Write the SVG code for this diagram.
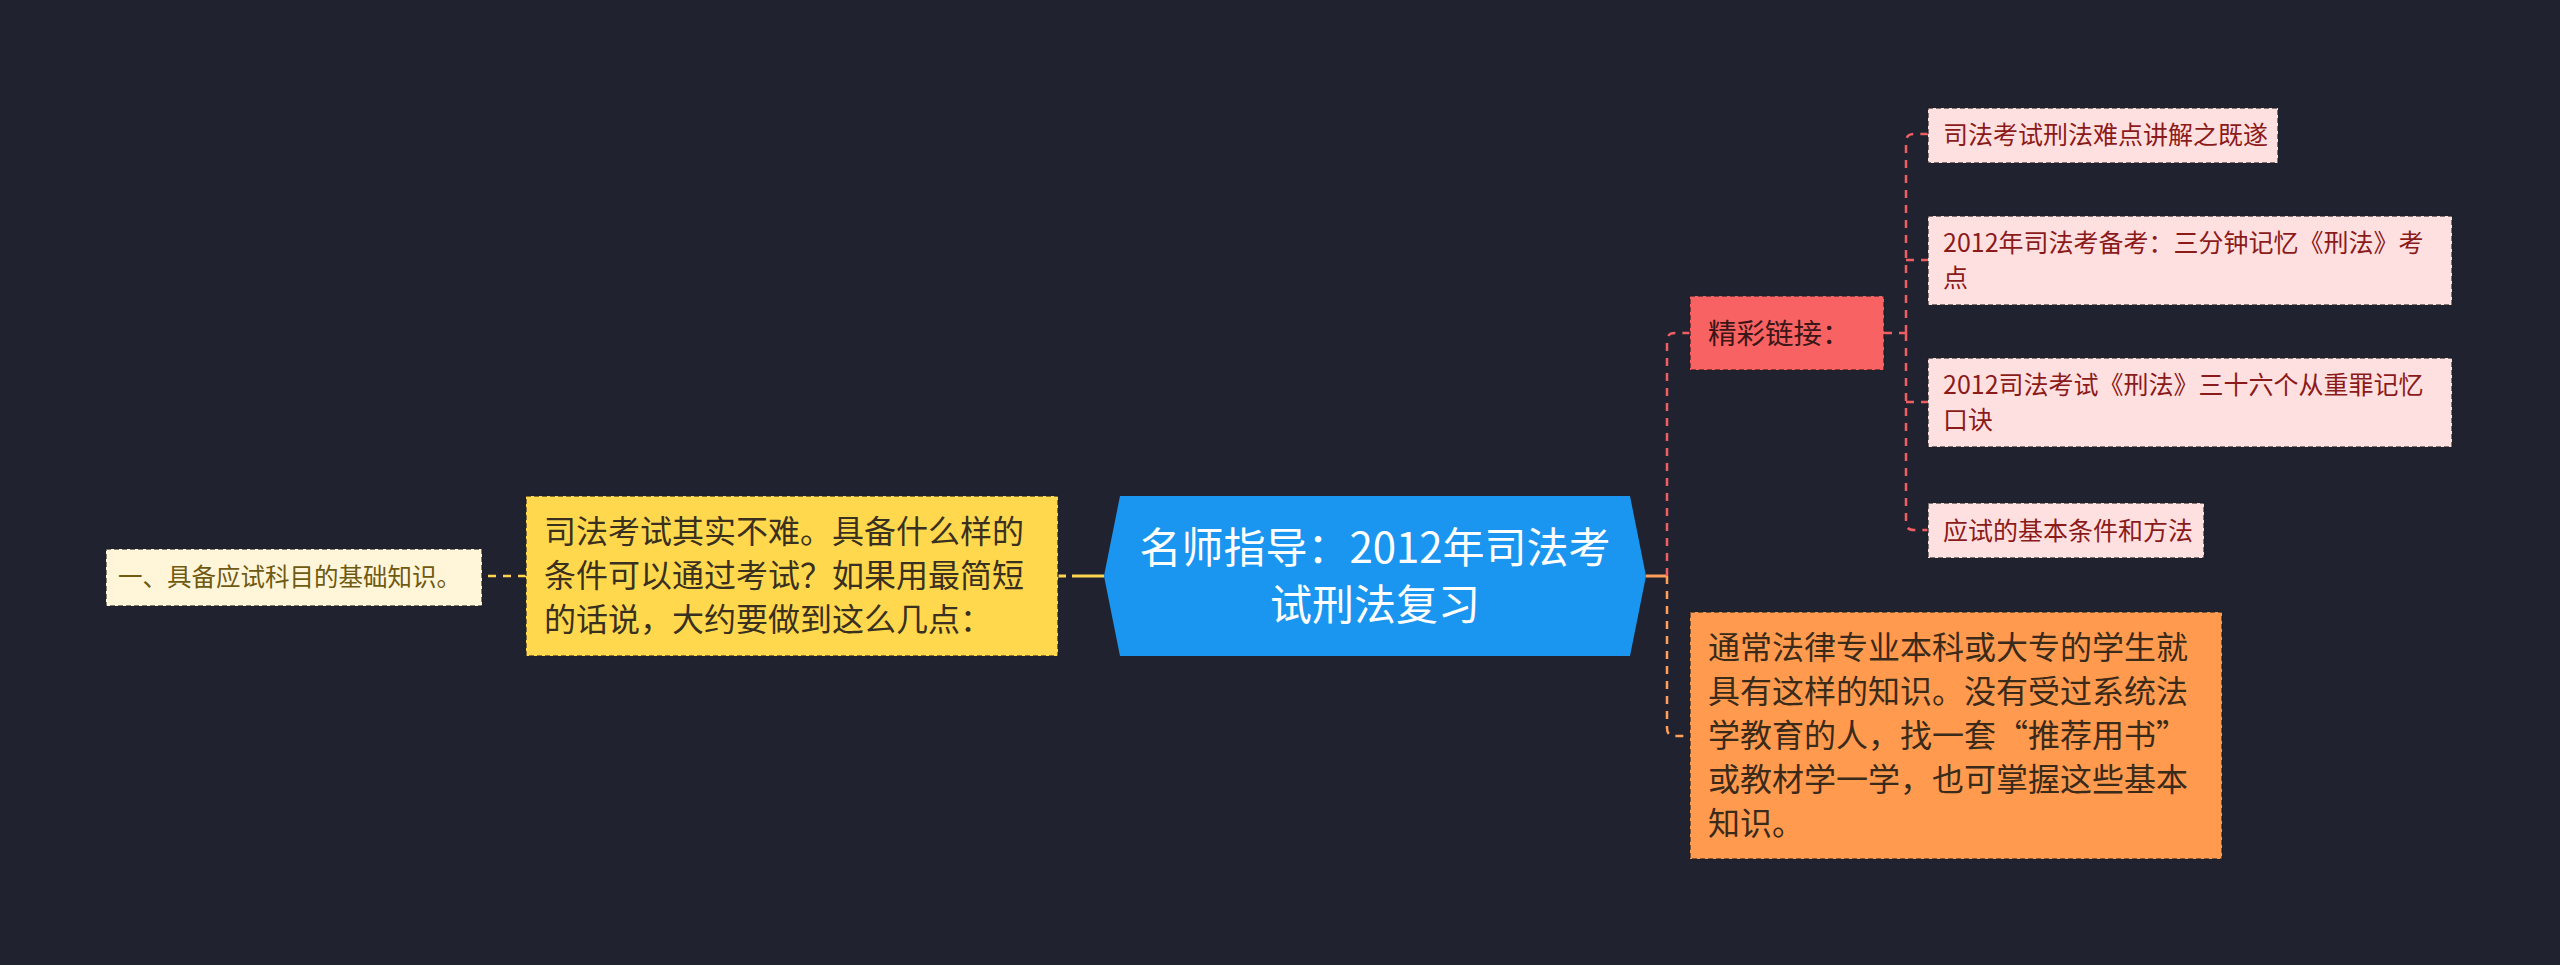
<svg xmlns="http://www.w3.org/2000/svg" width="2560" height="965" viewBox="0 0 2560 965">
<style>
text{font-family:"Noto Sans CJK SC","Noto Sans",sans-serif;}
.box{stroke:#1e1e1e;stroke-opacity:0.75;stroke-width:1.5;stroke-dasharray:5 3;}
.c{fill:none;stroke-width:2.5;stroke-dasharray:8 7;}
.pink{fill:#FFE0E0;}
.pt{font-size:25px;fill:#8B1A1A;}
</style>
<rect width="2560" height="965" fill="#20232F"/>
<g id="connectors">
<path d="M1104 576 H1058" fill="none" stroke="#FFD34E" stroke-width="3" stroke-dasharray="32 6"/>
<path class="c" d="M526 576 H482" stroke="#FFD34E"/>
<path d="M1646 576 H1667" fill="none" stroke="#FF9F5A" stroke-width="3"/>
<path class="c" d="M1667 576 V341 Q1667 333 1675 333 H1690" stroke="#EE5E62"/>
<path class="c" d="M1667 576 V728 Q1667 736 1675 736 H1690" stroke="#FF9F5A"/>
<path class="c" d="M1884 333 H1906" stroke="#EE5E62"/>
<path class="c" d="M1906 333 V142 Q1906 134 1914 134 H1928" stroke="#EE5E62"/>
<path class="c" d="M1906 333 V522 Q1906 530 1914 530 H1928" stroke="#EE5E62"/>
<path class="c" d="M1906 260 H1928" stroke="#EE5E62"/>
<path class="c" d="M1906 402 H1928" stroke="#EE5E62"/>
</g>
<g id="root">
<polygon points="1104,576 1120,496 1630,496 1646,576 1630,656 1120,656" fill="#1A96F0"/>
<text x="1375" y="563" font-size="42" fill="#FFFFFF" text-anchor="middle">名师指导：2012年司法考</text>
<text x="1375" y="620" font-size="42" fill="#FFFFFF" text-anchor="middle">试刑法复习</text>
</g>
<g id="node-yellow">
<rect class="box" x="526" y="496" width="532" height="160" fill="#FFD84D"/>
<text font-size="32" fill="#3A3020"><tspan x="544" y="543">司法考试其实不难。具备什么样的</tspan><tspan x="544" y="587">条件可以通过考试？如果用最简短</tspan><tspan x="544" y="631">的话说，大约要做到这么几点：</tspan></text>
</g>
<g id="node-basic">
<rect class="box" x="106" y="549" width="376" height="57" fill="#FFF6DA"/>
<text x="118" y="586" font-size="24.5" fill="#6F5A12">一、具备应试科目的基础知识。</text>
</g>
<g id="node-links">
<rect class="box" x="1690" y="296" width="194" height="74" fill="#F86262"/>
<text x="1708" y="344" font-size="28.5" fill="#3A1616">精彩链接：</text>
</g>
<g id="node-link1">
<rect class="box pink" x="1928" y="108" width="350" height="55"/>
<text class="pt" x="1943" y="144">司法考试刑法难点讲解之既遂</text>
</g>
<g id="node-link2">
<rect class="box pink" x="1928" y="216" width="524" height="89"/>
<text class="pt"><tspan x="1943" y="252">2012年司法考备考：三分钟记忆《刑法》考</tspan><tspan x="1943" y="287">点</tspan></text>
</g>
<g id="node-link3">
<rect class="box pink" x="1928" y="358" width="524" height="89"/>
<text class="pt"><tspan x="1943" y="394">2012司法考试《刑法》三十六个从重罪记忆</tspan><tspan x="1943" y="429">口诀</tspan></text>
</g>
<g id="node-link4">
<rect class="box pink" x="1928" y="503" width="276" height="55"/>
<text class="pt" x="1943" y="540">应试的基本条件和方法</text>
</g>
<g id="node-orange">
<rect class="box" x="1690" y="612" width="532" height="247" fill="#FF9A4E"/>
<text font-size="32" fill="#3A2A1A"><tspan x="1708" y="659">通常法律专业本科或大专的学生就</tspan><tspan x="1708" y="703">具有这样的知识。没有受过系统法</tspan><tspan x="1708" y="747">学教育的人，找一套“推荐用书”</tspan><tspan x="1708" y="791">或教材学一学，也可掌握这些基本</tspan><tspan x="1708" y="835">知识。</tspan></text>
</g>
</svg>
